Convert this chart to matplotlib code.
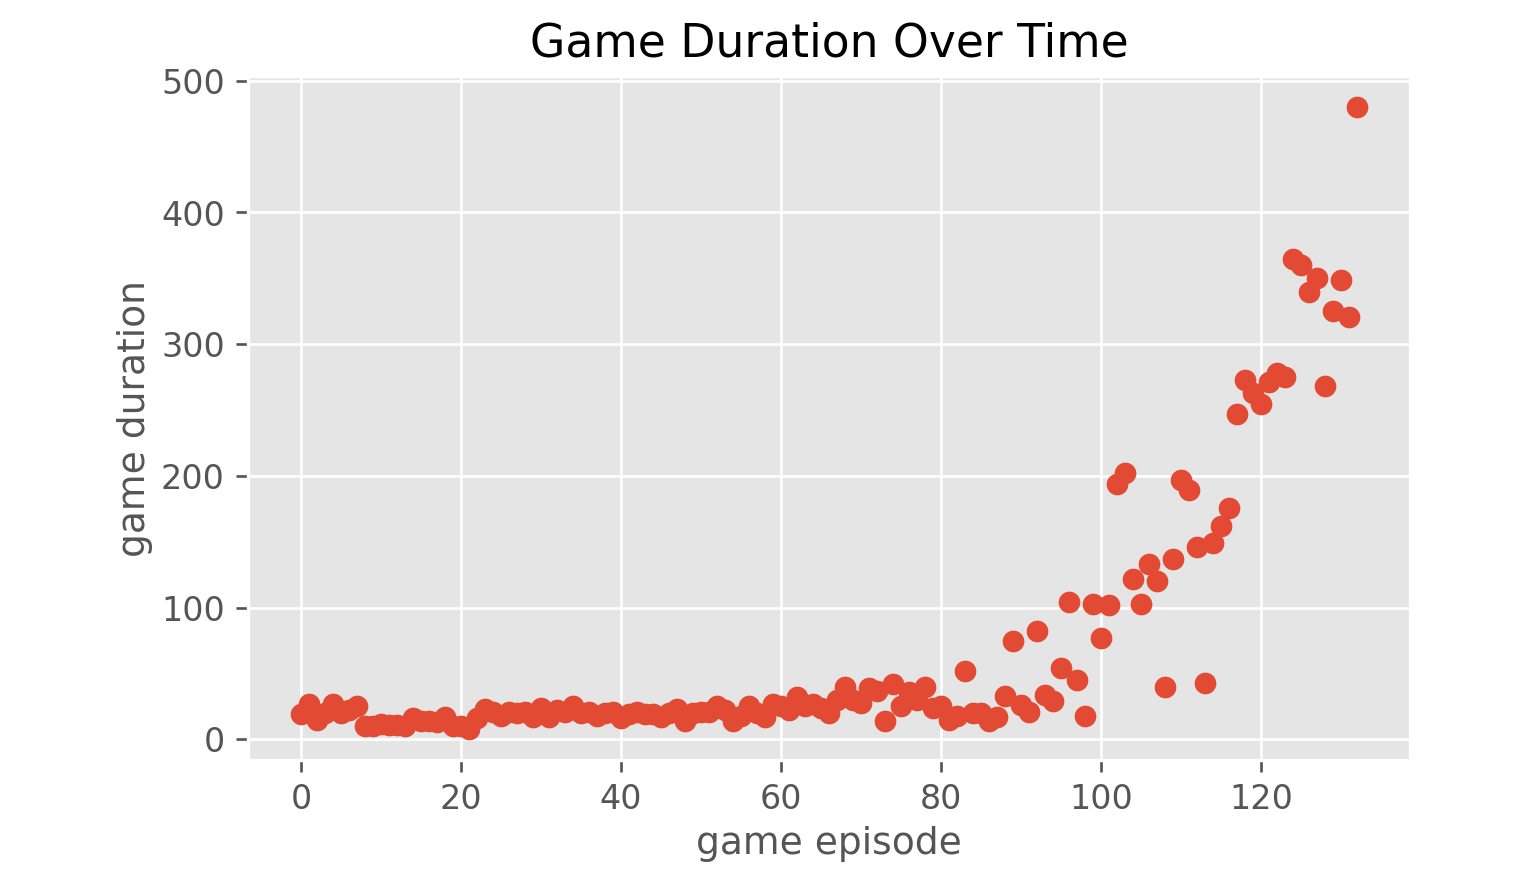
import matplotlib
matplotlib.use("Agg")
import matplotlib.pyplot as plt

# ── Data ──────────────────────────────────────────────────────────────────────

episodes = list(range(133))
durations = [
    19, 27, 15, 20, 27, 20, 22, 25, 10, 10,
    12, 11, 11, 10, 16, 14, 14, 13, 17, 10,
    10, 8, 16, 23, 21, 18, 21, 20, 21, 17,
    24, 17, 22, 21, 25, 20, 21, 18, 20, 21,
    16, 19, 21, 19, 19, 17, 20, 23, 14, 20,
    21, 21, 25, 22, 14, 18, 25, 20, 17, 27,
    25, 22, 32, 25, 27, 24, 20, 30, 40, 30,
    28, 39, 37, 14, 42, 25, 36, 30, 40, 24,
    25, 15, 18, 52, 20, 20, 14, 17, 33, 75,
    26, 21, 82, 34, 29, 54, 104, 45, 18, 103,
    77, 102, 194, 202, 122, 103, 133, 120, 40, 137,
    197, 189, 146, 43, 149, 162, 176, 247, 273, 263,
    255, 271, 278, 275, 365, 360, 340, 350, 268, 325,
    349, 321, 480,
]

# ── Plot ──────────────────────────────────────────────────────────────────────

plt.style.use("ggplot")
fig, ax = plt.subplots(figsize=(6.4, 3.6667), dpi=240)
fig.subplots_adjust(left=0.1615, right=0.918, bottom=0.1364, top=0.9136)

ax.scatter(episodes, durations)
ax.set_title("Game Duration Over Time", fontsize=13.7)
ax.set_xlabel("game episode", fontsize=11.3, labelpad=2.8)
ax.set_ylabel("game duration", fontsize=11.3, labelpad=2.4)

fig.savefig("out.png", dpi=240)
